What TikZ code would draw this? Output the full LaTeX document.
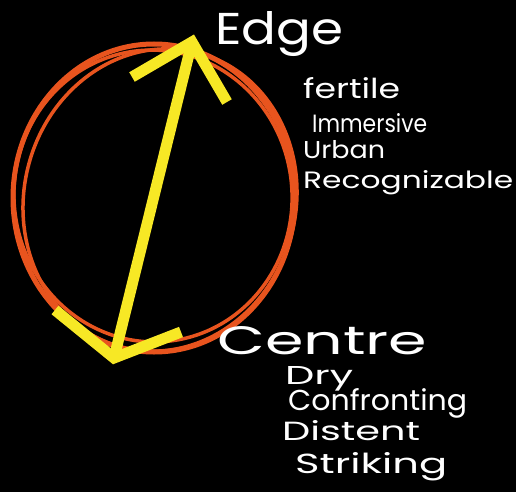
\documentclass[tikz,border=0pt]{standalone}
\usepackage{fontspec}
\setmainfont{Poppins}
\usepackage{graphicx}
\definecolor{ringcol}{RGB}{232,84,30}
\definecolor{arrowcol}{RGB}{247,232,37}
\begin{document}
\begin{tikzpicture}[x=1pt,y=-1pt,
  hand/.style={text=white, inner sep=0pt, anchor=base west},
  ring/.style={draw=ringcol, line width=5pt},
  thinring/.style={draw=ringcol, line width=3.5pt},
  yarrow/.style={draw=arrowcol, line width=11pt, line join=miter, line cap=butt}]
\fill[black] (0,0) rectangle (516,492);
\useasboundingbox (0,0) rectangle (516,492);
% orange hand-drawn circle
\draw[ring] (154,198) ellipse [x radius=141, y radius=154];
\draw[thinring, rotate around={-14:(160,200)}] (160,200) ellipse [x radius=136, y radius=152];
\draw[thinring, rotate around={6:(153,196)}] (153,196) ellipse [x radius=139, y radius=146];
% yellow double arrow
\coordinate (top) at (192,42);
\coordinate (bot) at (114,358);
\coordinate (tl) at (132,77);
\coordinate (tr) at (227,102);
\coordinate (bl) at (55,310);
\coordinate (br) at (181,332);
\draw[yarrow] (bot) -- (top);
\draw[yarrow] (tl) -- (top) -- (tr);
\draw[yarrow] (bl) -- (bot) -- (br);
% texts
\node[hand] (edge) at (215,45) {\resizebox{128pt}{33pt}{Edge}};
\node[hand] (fertile) at (303,98) {\resizebox{97pt}{21pt}{fertile}};
\node[hand] (immersive) at (312,132) {\resizebox{115pt}{19pt}{Immersive}};
\node[hand] (urban) at (303,158) {\resizebox{82pt}{18pt}{Urban}};
\node[hand] (recog) at (303,188) {\resizebox{210pt}{18pt}{Recognizable}};
\node[hand] (centre) at (217,354) {\resizebox{210pt}{28pt}{Centre}};
\node[hand] (dry) at (285,384) {\resizebox{68pt}{18pt}{Dry}};
\node[hand] (confr) at (288,410) {\resizebox{179pt}{22pt}{Confronting}};
\node[hand] (distent) at (282,440) {\resizebox{138pt}{20pt}{Distent}};
\node[hand] (striking) at (295,473) {\resizebox{152pt}{21pt}{Striking}};
\end{tikzpicture}
\end{document}
